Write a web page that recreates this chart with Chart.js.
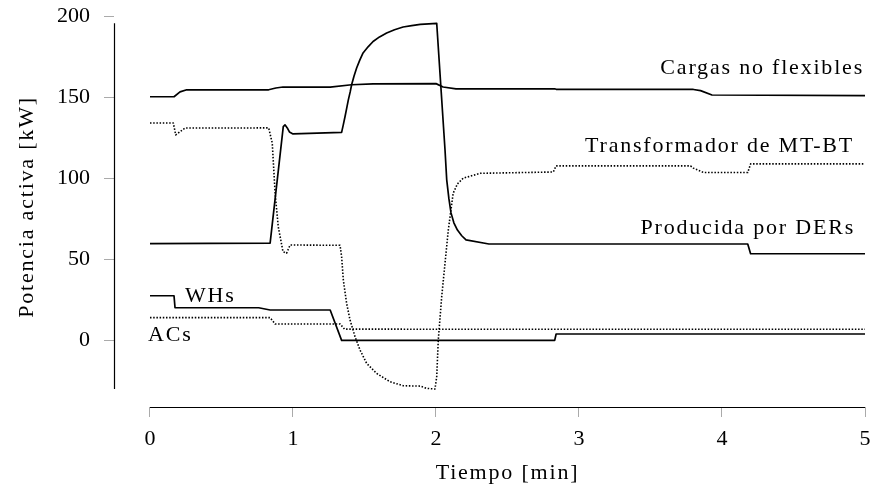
<!DOCTYPE html>
<html>
<head>
<meta charset="utf-8">
<script src="https://cdn.jsdelivr.net/npm/chart.js@4.4.1/dist/chart.umd.min.js"></script>
<style>
  body { margin: 0; background: #fff; }
  canvas { display: block; }
  #probe { position: absolute; left: -1000px; top: 0; font-family: 'Liberation Serif', 'DejaVu Serif', serif; font-size: 22px; }
</style>
</head>
<body>
<canvas id="myChart" width="874" height="491"></canvas>
<span id="probe">Tiempo 0123</span>
<script>
// tiempo [min] y potencia [kW] de cada serie
const cargasT = [0, 0.168, 0.21, 0.257, 0.83, 0.88, 0.93, 1.26, 1.41, 1.56, 2.0, 2.05, 2.14, 2.83, 2.84, 3.8, 3.85, 3.93, 5]
const cargasP = [150.2, 150.2, 153.2, 154.5, 154.5, 155.6, 156.2, 156.2, 157.6, 158.2, 158.3, 156.2, 155.1, 155.1, 154.8, 154.7, 154.0, 151.3, 150.9]

const dersT = [0, 0.84, 0.932, 0.944, 0.96, 0.975, 1.0, 1.34, 1.352, 1.364, 1.376, 1.387, 1.40, 1.41, 1.427, 1.445, 1.467, 1.49, 1.525, 1.56, 1.605, 1.655, 1.71, 1.77, 1.83, 1.89, 1.95, 2.005, 2.063, 2.075, 2.09, 2.105, 2.125, 2.15, 2.18, 2.21, 2.37, 4.18, 4.2, 5]
const dersP = [59.7, 59.9, 131.8, 132.9, 131.0, 128.5, 127.3, 128.2, 133.0, 138, 143.3, 148.3, 153.2, 157.6, 163.0, 167.9, 172.8, 177.2, 181.0, 184.3, 187.1, 189.5, 191.5, 193.2, 194.1, 194.8, 195.2, 195.5, 117.5, 99, 87.5, 78.6, 72.5, 68, 64.5, 62, 59.4, 59.4, 53.4, 53.4]

const trafoT = [0, 0.163, 0.18, 0.245, 0.83, 0.855, 0.875, 0.897, 0.93, 0.955, 0.98, 1.329, 1.34, 1.352, 1.375, 1.399, 1.434, 1.469, 1.515, 1.585, 1.678, 1.771, 1.888, 1.935, 1.993, 2.005, 2.016, 2.04, 2.063, 2.086, 2.12, 2.15, 2.19, 2.31, 2.82, 2.84, 3.78, 3.80, 3.87, 4.18, 4.2, 5]
const trafoP = [134, 134, 126.7, 130.9, 131, 121.6, 90.7, 70, 54.7, 53.7, 58.8, 58.6, 51.6, 37.2, 22.8, 12.5, 2.2, -6, -14.2, -20.4, -25.5, -28, -28.2, -29.6, -30, -22.5, 0.2, 27, 47.5, 68, 90.7, 96.5, 100, 103, 103.8, 107.6, 107.6, 106.2, 103.5, 103.5, 108.8, 108.8]

const whsT = [0, 0.168, 0.175, 0.76, 0.84, 1.26, 1.34, 2.83, 2.84, 5]
const whsP = [27.5, 27.5, 20.1, 20.1, 18.7, 18.7, 0, 0, 3.9, 3.9]

const acsT = [0, 0.84, 0.875, 1.33, 1.36, 5]
const acsP = [14, 14, 10.1, 10.1, 6.9, 6.8]

const xTicks = [0, 1, 2, 3, 4, 5]
const yTicks = [0, 50, 100, 150, 200]

const FONT = "'Liberation Serif', 'DejaVu Serif', serif"

function pts(t, p) {
    return t.map((x, i) => ({x: x, y: p[i]}))
}

const allP = [].concat(cargasP, dersP, trafoP, whsP, acsP)
const dataMin = Math.min(...allP)
const dataMax = Math.max(...allP)

const solid = {borderColor: '#000', borderWidth: 1.7, pointRadius: 0, fill: false, tension: 0, borderJoinStyle: 'round'}
const dotted = Object.assign({}, solid, {borderWidth: 1.6, borderDash: [1.5, 1.7], borderCapStyle: 'butt'})

// ejes tipo "range frame" y rotulos de cada curva
const frame = {
    id: 'frame',
    beforeDatasetsDraw(chart) {
        const ctx = chart.ctx
        const xs = chart.scales.x
        const ys = chart.scales.y
        const a = chart.chartArea
        ctx.save()
        ctx.strokeStyle = '#000'
        ctx.lineWidth = 1.2
        ctx.beginPath()
        ctx.moveTo(a.left + 0.5, ys.getPixelForValue(dataMax))
        ctx.lineTo(a.left + 0.5, ys.getPixelForValue(dataMin))
        ctx.moveTo(xs.getPixelForValue(xTicks[0]), a.bottom + 0.5)
        ctx.lineTo(xs.getPixelForValue(xTicks[xTicks.length - 1]), a.bottom + 0.5)
        ctx.stroke()
        ctx.restore()
    },
    afterDraw(chart) {
        const ctx = chart.ctx
        const a = chart.chartArea
        ctx.save()
        ctx.fillStyle = '#000'
        ctx.font = '22px ' + FONT
        ctx.letterSpacing = '1.8px'
        ctx.textBaseline = 'alphabetic'

        ctx.textAlign = 'right'
        ctx.fillText('Cargas no flexibles', 864, 74)
        ctx.fillText('Transformador de MT-BT', 854, 152)
        ctx.fillText('Producida por DERs', 855, 234)

        ctx.textAlign = 'left'
        ctx.fillText('WHs', 185, 302)
        ctx.fillText('ACs', 148, 341)

        ctx.textAlign = 'center'
        ctx.fillText('Tiempo [min]', (chart.scales.x.getPixelForValue(0) + a.right) / 2, 479)

        ctx.translate(32.5, 207)
        ctx.rotate(-Math.PI / 2)
        ctx.fillText('Potencia activa [kW]', 0, 0)
        ctx.restore()
    }
}

const config = {
    type: 'line',
    data: {
        datasets: [
            Object.assign({label: 'Cargas no flexibles', data: pts(cargasT, cargasP)}, solid),
            Object.assign({label: 'Producida por DERs', data: pts(dersT, dersP)}, solid),
            Object.assign({label: 'Transformador de MT-BT', data: pts(trafoT, trafoP)}, dotted),
            Object.assign({label: 'WHs', data: pts(whsT, whsP)}, solid),
            Object.assign({label: 'ACs', data: pts(acsT, acsP)}, dotted)
        ]
    },
    options: {
        responsive: false,
        animation: false,
        devicePixelRatio: 1,
        layout: {padding: {left: 0, right: 9, top: 16, bottom: 0}},
        plugins: {legend: {display: false}, tooltip: {enabled: false}},
        scales: {
            x: {
                type: 'linear',
                min: -0.2517,
                max: 5,
                afterBuildTicks: s => { s.ticks = xTicks.map(v => ({value: v})) },
                afterFit: s => { s.height = 84; s.paddingLeft = 0; s.paddingRight = 0 },
                border: {display: false},
                grid: {drawOnChartArea: false, drawTicks: true, tickLength: 10, color: '#aaa', lineWidth: 1},
                ticks: {color: '#000', padding: 9, maxRotation: 0, font: {family: FONT, size: 22}}
            },
            y: {
                type: 'linear',
                min: -41.1,
                max: 200,
                afterBuildTicks: s => { s.ticks = yTicks.map(v => ({value: v})) },
                afterFit: s => { s.width = 114; s.paddingTop = 0; s.paddingBottom = 0 },
                border: {display: false},
                grid: {drawOnChartArea: false, drawTicks: true, tickLength: 10, color: '#aaa', lineWidth: 1},
                ticks: {color: '#000', padding: 14, font: {family: FONT, size: 22}}
            }
        }
    },
    plugins: [frame]
}

let myChart
document.fonts.load('22px "Liberation Serif"').then(() => {
    myChart = new Chart(document.getElementById('myChart'), config)
})
</script>
</body>
</html>
